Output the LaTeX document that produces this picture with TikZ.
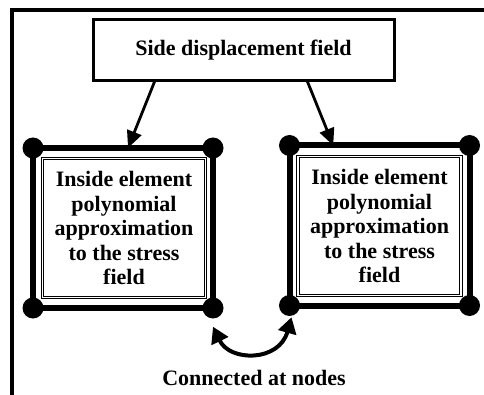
\documentclass[tikz,border=0pt]{standalone}
\usepackage{fontspec}
\setmainfont{Liberation Serif}
\usetikzlibrary{arrows.meta,calc}
\tikzset{
  frameline/.style={line width=4pt},
  topbox/.style={draw, line width=3pt, minimum width=301pt, minimum height=61pt, inner sep=0pt, outer sep=0pt},
  sq/.style={draw, line width=6pt, inner sep=0pt, outer sep=0pt, minimum width=180pt, minimum height=160pt},
  innerbox/.style={draw, line width=0.8pt, double, double distance=1.8pt, inner sep=0pt, outer sep=0pt, minimum width=163pt, minimum height=139pt, align=center},
  dotnode/.style={circle, fill=black, inner sep=0pt, minimum size=21pt},
  txt/.style={font=\bfseries\fontsize{22}{24.5}\selectfont},
  feed/.style={line width=2.8pt, -{Triangle[length=17pt,width=15pt]}},
  link/.style={line width=4pt, {Triangle[length=16pt,width=18pt]}-{Triangle[length=16pt,width=18pt]}}
}
\begin{document}
\begin{tikzpicture}[x=1pt,y=-1pt]
\useasboundingbox (0,0) rectangle (484,395);
% frame
\draw[frameline] (484,10.3) -- (11.5,10.3) -- (11.5,395);
% top box
\node[topbox, txt] (top) at (243.5,50) {Side displacement field};
% squares
\node[sq] (L) at (123,228) {};
\node[sq] (R) at (379.5,225.5) {};
\node[innerbox, txt] (Li) at (124,228) {Inside element\\polynomial\\approximation\\to the stress\\field};
\node[innerbox, txt] (Ri) at (379.5,226) {Inside element\\polynomial\\approximation\\to the stress\\field};
% corner dots
\node[dotnode] (Lnw) at (L.north west) {};
\node[dotnode] (Lne) at (L.north east) {};
\node[dotnode] (Lsw) at (L.south west) {};
\node[dotnode] (Lse) at (L.south east) {};
\node[dotnode] (Rnw) at (R.north west) {};
\node[dotnode] (Rne) at (R.north east) {};
\node[dotnode] (Rsw) at (R.south west) {};
\node[dotnode] (Rse) at (R.south east) {};
% arrows from top box
\draw[feed] ($(top.south west)!0.206!(top.south east)$) -- ($(L.north west)!0.528!(L.north east)$);
\draw[feed] ($(top.south west)!0.711!(top.south east)$) -- ($(R.north west)!0.243!(R.north east)$);
% connection arrow
\coordinate (ca) at ([yshift=-8pt]Lse.south);
\coordinate (cb) at ([xshift=2pt,yshift=-1pt]Rsw.south);
\draw[link] (ca) .. controls (230,362) and (279,362) .. (cb);
\node[txt] (conn) at (254,378) {Connected at nodes};
\end{tikzpicture}
\end{document}
